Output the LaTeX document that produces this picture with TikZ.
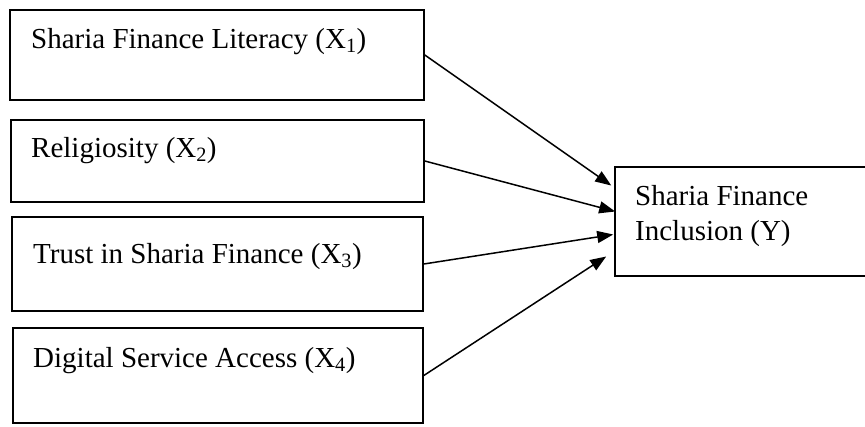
\documentclass[tikz,border=0pt]{standalone}
\usepackage{fontspec}
\setmainfont{Liberation Serif}
\usetikzlibrary{arrows.meta}

\begin{document}
\begin{tikzpicture}[x=1pt, y=-1pt,
    box/.style={rectangle, draw, line width=1.6pt, inner sep=0pt},
    lbl/.style={anchor=base west, inner sep=0pt, font=\fontsize{29}{35}\selectfont},
    arrow/.style={-{Triangle[length=16pt, width=12pt]}, line width=1.5pt}
]
\useasboundingbox (0,0) rectangle (865,426);

\node[box, minimum width=414pt, minimum height=90pt] (x1) at (217,55) {};
\node[box, minimum width=413pt, minimum height=82pt] (x2) at (217.5,161) {};
\node[box, minimum width=411pt, minimum height=94pt] (x3) at (217.5,264) {};
\node[box, minimum width=410pt, minimum height=95pt] (x4) at (218,375.5) {};
\node[box, minimum width=260pt, minimum height=109pt] (y) at (745,221.5) {};

\node[lbl] (x1text) at (31,48) {Sharia Finance Literacy (X\textsubscript{1})};
\node[lbl] (x2text) at (31,157) {Religiosity (X\textsubscript{2})};
\node[lbl] (x3text) at (33,263) {Trust in Sharia Finance (X\textsubscript{3})};
\node[lbl] (x4text) at (33,367) {Digital Service Access (X\textsubscript{4})};
\node[lbl] (ytext1) at (635,205) {Sharia Finance};
\node[lbl] (ytext2) at (635,240) {Inclusion (Y)};

\draw[arrow] (x1.east) -- ([xshift=-3pt, yshift=36pt]y.west);
\draw[arrow] (x2.east) -- ([xshift=1pt, yshift=10pt]y.west);
\draw[arrow] (x3.east) -- ([xshift=-1pt, yshift=-13pt]y.west);
\draw[arrow] (x4.east) -- ([xshift=-8pt, yshift=-35pt]y.west);

\end{tikzpicture}
\end{document}
